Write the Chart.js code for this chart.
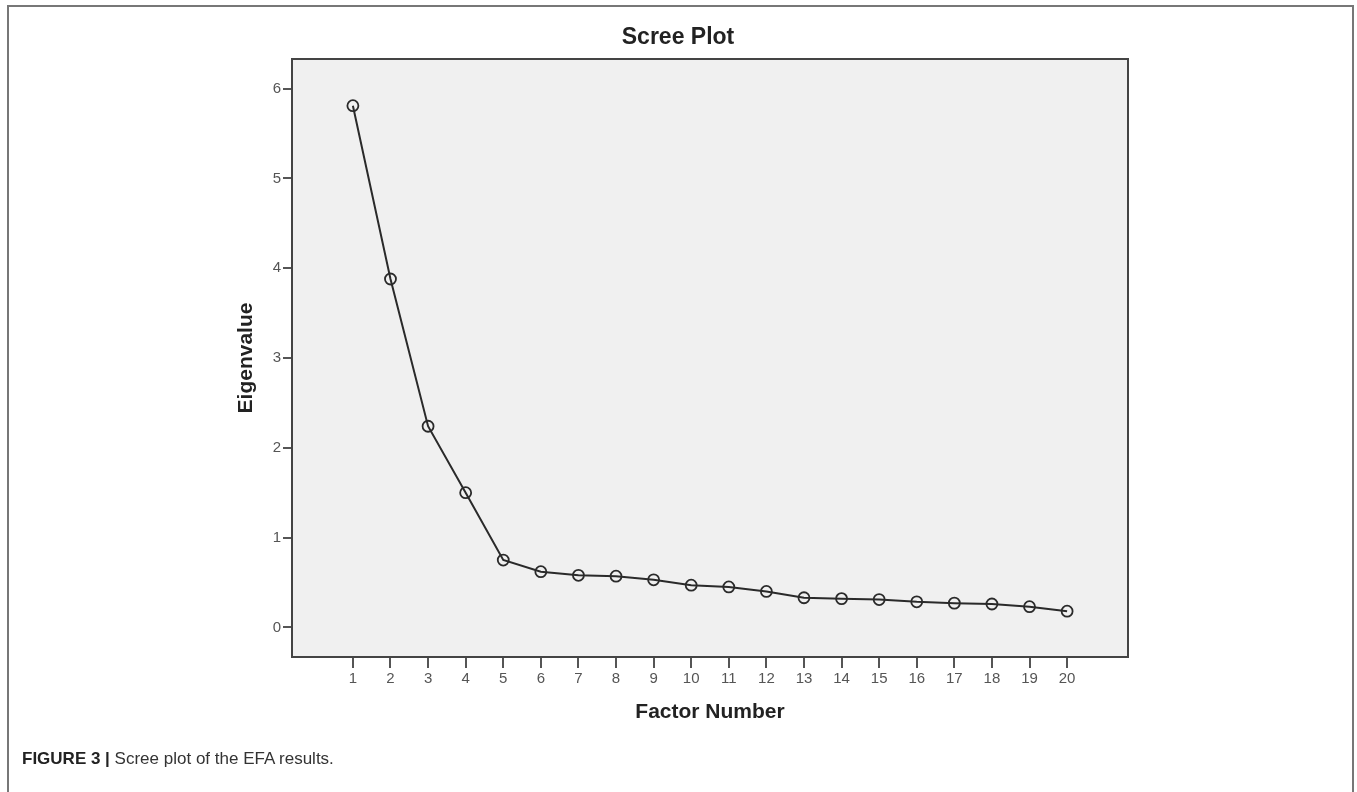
<!DOCTYPE html>
<html>
<head>
<meta charset="utf-8">
<script src="https://cdn.jsdelivr.net/npm/chart.js@4"></script>
<style>
  html, body { margin: 0; padding: 0; background: #fff; }
  #wrap { position: relative; width: 1357px; height: 792px; overflow: hidden; }
  #frame { position: absolute; left: 7px; top: 5px; width: 1347px; height: 800px; border: 2px solid #777; box-sizing: border-box; }
  #c { position: absolute; left: 0; top: 0; }
  #caption { position: absolute; left: 22px; top: 749px; font-family: "Liberation Sans", Arial, sans-serif; font-size: 17px; color: #333; }
  #caption b { color: #222; }
</style>
</head>
<body>
<div id="wrap">
  <div id="frame"></div>
  <canvas id="c" width="1357" height="792"></canvas>
  <div id="caption"><b>FIGURE 3 |</b> Scree plot of the EFA results.</div>
</div>
<script>
const chartTitle = "Scree Plot";
const xTitle = "Factor Number";
const yTitle = "Eigenvalue";
const factors = [1, 2, 3, 4, 5, 6, 7, 8, 9, 10, 11, 12, 13, 14, 15, 16, 17, 18, 19, 20];
const eigenvalues = [5.81, 3.88, 2.24, 1.50, 0.75, 0.62, 0.58, 0.57, 0.53, 0.47, 0.45, 0.40, 0.33, 0.32, 0.31, 0.285, 0.27, 0.26, 0.23, 0.18];
const yTicks = [0, 1, 2, 3, 4, 5, 6];

const FONT = "'Liberation Sans', Arial, sans-serif";

const plotBg = {
  id: 'plotBg',
  beforeDraw(chart) {
    const {ctx, chartArea: a} = chart;
    ctx.save();
    ctx.fillStyle = '#f0f0f0';
    ctx.fillRect(a.left, a.top, a.right - a.left, a.bottom - a.top);
    ctx.restore();
  },
  afterDraw(chart) {
    const {ctx, chartArea: a} = chart;
    ctx.save();
    ctx.strokeStyle = '#444';
    ctx.lineWidth = 2;
    ctx.strokeRect(a.left, a.top, a.right - a.left, a.bottom - a.top);
    ctx.restore();
  }
};

new Chart(document.getElementById('c'), {
  type: 'line',
  data: {
    datasets: [{
      data: factors.map((f, i) => ({x: f, y: eigenvalues[i]})),
      borderColor: '#2a2a2a',
      borderWidth: 2,
      pointStyle: 'circle',
      pointRadius: 5.5,
      pointBorderWidth: 1.8,
      pointBorderColor: '#2a2a2a',
      pointBackgroundColor: 'rgba(0,0,0,0)',
      tension: 0
    }]
  },
  options: {
    responsive: false,
    animation: false,
    devicePixelRatio: 1,
    layout: { padding: { left: 228, right: 229, top: 0, bottom: 0 } },
    plugins: {
      legend: { display: false },
      tooltip: { enabled: false },
      title: {
        display: true,
        text: chartTitle,
        color: '#222',
        font: { family: FONT, size: 23, weight: 'bold' },
        padding: { top: 24, bottom: 7.4 }
      }
    },
    scales: {
      x: {
        type: 'linear',
        min: -0.62,
        max: 21.62,
        afterBuildTicks(scale) { scale.ticks = factors.map(v => ({value: v})); },
        afterFit(scale) { scale.height = 135; },
        ticks: {
          color: '#555',
          font: { family: FONT, size: 15 },
          padding: 2,
          maxRotation: 0,
          autoSkip: false
        },
        grid: { drawOnChartArea: false, drawTicks: true, tickLength: 11, color: '#555', lineWidth: 2 },
        border: { display: true, color: '#444', width: 2 },
        title: {
          display: true,
          text: xTitle,
          color: '#222',
          font: { family: FONT, size: 21, weight: 'bold' },
          padding: { top: 0, bottom: 67 }
        }
      },
      y: {
        type: 'linear',
        min: -0.33,
        max: 6.33,
        afterBuildTicks(scale) { scale.ticks = yTicks.map(v => ({value: v})); },
        afterFit(scale) { scale.width = 64; },
        ticks: {
          color: '#555',
          font: { family: FONT, size: 15 },
          padding: 2
        },
        grid: { drawOnChartArea: false, drawTicks: true, tickLength: 9, color: '#555', lineWidth: 2 },
        border: { display: true, color: '#444', width: 2 },
        title: {
          display: true,
          text: yTitle,
          color: '#222',
          font: { family: FONT, size: 21, weight: 'bold' },
          padding: { top: 6, bottom: 0 }
        }
      }
    }
  },
  plugins: [plotBg]
});
</script>
</body>
</html>
